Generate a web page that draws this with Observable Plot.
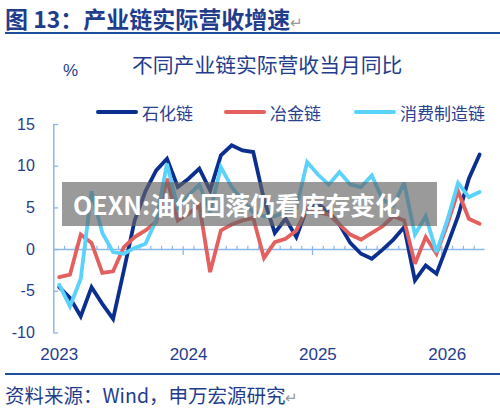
<!DOCTYPE html>
<html>
<head>
<meta charset="utf-8">
<script src="https://cdn.jsdelivr.net/npm/d3@7"></script>
<script src="https://cdn.jsdelivr.net/npm/@observablehq/plot@0.6"></script>
<style>
  html, body { margin: 0; padding: 0; background: #fff; }
  #wrap { position: relative; width: 500px; height: 408px; overflow: hidden; font-family: "Noto Sans CJK SC", "Liberation Sans", sans-serif; color: #1f3d8c; }
  .abs { position: absolute; white-space: nowrap; }
  #title { left: 5px; top: 4px; font-size: 23px; font-weight: bold; line-height: 28px; color: #1f3d8c; }
  #title .ret, #source .ret { color: #9a9a9a; font-weight: normal; font-size: 15px; }
  #rule1 { left: 5px; top: 32px; width: 495px; height: 2px; background: #1f4e9c; }
  #subtitle { left: 132px; top: 51px; font-size: 20.8px; line-height: 26px; color: #1f3d8c; }
  #pct { left: 63px; top: 60px; font-size: 17px; line-height: 22px; color: #1f3d8c; font-family: "Liberation Sans", sans-serif; }
  #legend { left: 0; top: 100px; width: 500px; height: 24px; }
  .lg { position: absolute; top: 0; display: flex; align-items: center; height: 24px; font-size: 17px; color: #2a4190; }
  .lg svg { margin-right: 4px; }
  #chart { left: 0; top: 110px; }
  #rule2 { left: 5px; top: 373px; width: 495px; height: 2px; background: #1f4e9c; }
  #source { left: 5px; top: 383px; font-size: 19.5px; line-height: 24px; color: #1f3d8c; }
  #wm { left: 62px; top: 182px; width: 375px; height: 44px; background: rgba(100,100,100,0.65); color: #fff; font-weight: bold; font-size: 25px; line-height: 44px; padding-left: 11px; box-sizing: border-box; }
</style>
</head>
<body>
<div id="wrap">
  <div class="abs" id="title">图 13：产业链实际营收增速<span class="ret">↵</span></div>
  <div class="abs" id="rule1"></div>
  <div class="abs" id="subtitle">不同产业链实际营收当月同比</div>
  <div class="abs" id="pct">%</div>
  <div class="abs" id="legend"></div>
  <div class="abs" id="chart"></div>
  <div class="abs" id="wm">OEXN:油价回落仍看库存变化</div>
  <div class="abs" id="rule2"></div>
  <div class="abs" id="source">资料来源：Wind，申万宏源研究<span class="ret">↵</span></div>
</div>
<script>
// ---- data (monthly, Jan 2023 – Apr 2026) ----
const seriesNames = ["石化链", "冶金链", "消费制造链"];
const seriesColors = ["#0b2f8f", "#e3605e", "#5ad2fb"];
const years = ["2023", "2024", "2025", "2026"];
const yTicks = [-10, -5, 0, 5, 10, 15];

const petro = [
  -4.5, -5.8, -8.0, -4.5, -6.5, -8.3, -2.5, 3.5, 7.0, 9.5,
  10.9, 7.5, 8.5, 9.7, 7.1, 11.3, 12.5, 11.9, 11.7, 6.0,
  2.0, 3.7, 1.5, 5.0, 5.5, 4.5, 3.0, 0.8, -0.5, -1.1,
  0.0, 1.2, 2.7, -3.7, -1.9, -2.9, 0.5, 4.0, 8.5, 11.4
];
const metal = [
  -3.3, -3.0, 1.8, 0.8, -2.8, -2.6, 0.3, 1.5, 2.3, 3.3,
  8.5, 3.5, 4.3, 5.3, -2.7, 2.3, 3.0, 3.5, 3.8, -1.0,
  0.9, 1.3, 2.3, 5.0, 4.5, 4.2, 3.0, 1.8, 1.2, 2.0,
  2.8, 4.0, 3.5, -1.7, 1.5, -0.5, 3.0, 7.0, 3.7, 3.1
];
const consumer = [
  -4.2, -6.8, -3.5, 7.0, 2.0, -0.3, -0.5, 0.2, 0.7, 3.5,
  10.3, 5.0, 6.5, 7.8, 4.5, 9.9, 7.5, 5.9, 4.5, 4.0,
  4.0, 4.5, 5.0, 10.5, 9.0, 7.8, 9.3, 7.8, 7.5, 8.9,
  6.0, 5.3, 8.0, 1.8, 4.0, -0.3, 3.5, 8.0, 6.3, 6.9
];

const allSeries = [petro, metal, consumer];
const rows = allSeries.flatMap((arr, s) => arr.map((v, i) => ({ i, v, s: seriesNames[s] })));
const nMonths = petro.length;

const axisColor = "#8ab8e8";
const textColor = "#1f3d8c";

// ---- legend ----
const legendPos = [[96, 42], [224, 42], [354, 42]];
const legend = document.getElementById("legend");
seriesNames.forEach((name, k) => {
  const d = document.createElement("div");
  d.className = "lg";
  d.style.left = legendPos[k][0] + "px";
  d.innerHTML = `<svg width="${legendPos[k][1]}" height="8"><line x1="2" y1="4" x2="${legendPos[k][1]-2}" y2="4" stroke="${seriesColors[k]}" stroke-width="4" stroke-linecap="round"/></svg><span>${name}</span>`;
  legend.appendChild(d);
});

// ---- chart ----
const chart = Plot.plot({
  width: 500,
  height: 260,
  marginLeft: 53.3,
  marginRight: 15.5,
  marginTop: 14,
  marginBottom: 37.5,
  style: { fontFamily: "Liberation Sans, sans-serif", fontSize: "16px", color: textColor, background: "transparent", overflow: "visible" },
  x: { domain: [0, nMonths], axis: null },
  y: { domain: [-10, 15], axis: null },
  color: { domain: seriesNames, range: seriesColors },
  marks: [
    Plot.ruleX([0], { y1: -10, y2: 15, stroke: axisColor, strokeWidth: 1.5 }),
    Plot.ruleY(yTicks, { x1: 0, x2: 0.45, stroke: axisColor, strokeWidth: 1.3 }),
    Plot.ruleY([0], { x1: 0, x2: nMonths, stroke: axisColor, strokeWidth: 1.5 }),
    Plot.ruleX(d3.range(1, nMonths).filter(j => j % 12 !== 0), { y1: 0, y2: 0.4, stroke: axisColor, strokeWidth: 1.2 }),
    Plot.ruleX(d3.range(12, nMonths, 12), { y1: -0.7, y2: 0.35, stroke: axisColor, strokeWidth: 1.3 }),
    Plot.axisY({ ticks: yTicks, tickSize: 0, tickPadding: 19, fontSize: 16, label: null, tickFormat: d => String(d) }),
    Plot.axisX({ ticks: years.map((y, k) => k * 12 + 0.5), tickSize: 0, tickPadding: 15, fontSize: 17, label: null,
      tickFormat: d => years[Math.round((d - 0.5) / 12)] }),
    Plot.line(rows, { x: d => d.i + 0.5, y: "v", z: "s", stroke: "s", strokeWidth: 3.8, strokeLinejoin: "miter", strokeMiterlimit: 3 })
  ]
});
document.getElementById("chart").appendChild(chart);
</script>
</body>
</html>
